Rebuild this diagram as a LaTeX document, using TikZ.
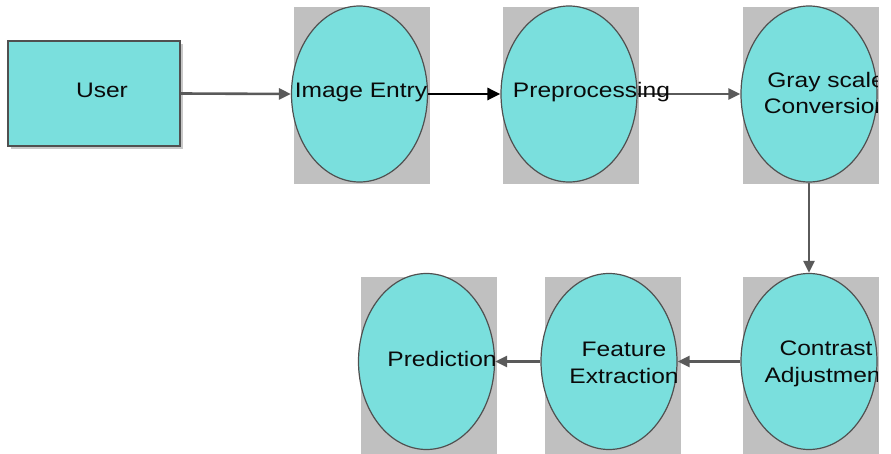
\documentclass[tikz,border=0pt]{standalone}
\usepackage{fontspec}
\setmainfont{Liberation Sans}[FakeStretch=1.17]
\usetikzlibrary{arrows.meta,shapes.geometric}
\definecolor{cyanfill}{HTML}{7ADFDD}
\definecolor{backgray}{HTML}{C0C0C0}
\definecolor{edgegray}{HTML}{505050}
\definecolor{linkgray}{HTML}{5A5A5A}
\definecolor{shadowgray}{HTML}{C8C8C8}
\definecolor{inkcol}{HTML}{0A0A0A}
\tikzset{
  backbox/.style={rectangle, fill=backgray, draw=none, inner sep=0pt,
    minimum width=136pt, minimum height=177pt},
  stage/.style={ellipse, fill=cyanfill, draw=edgegray, line width=1.2pt,
    inner sep=0pt, minimum width=136pt, minimum height=176pt},
  userbox/.style={rectangle, fill=cyanfill, draw=edgegray, line width=1.2pt,
    inner sep=0pt, minimum width=172pt, minimum height=105pt},
  caption/.style={anchor=base, inner sep=0pt, text=inkcol, align=center,
    font=\fontsize{21}{26.5}\selectfont},
  link/.style={draw=linkgray, line width=2.6pt,
    -{Triangle[length=12pt,width=11pt]}},
  darklink/.style={draw=black, line width=2.8pt,
    -{Triangle[length=13pt,width=12pt]}}
}
\begin{document}
\begin{tikzpicture}[x=1pt,y=-1pt]
\useasboundingbox (0,0) rectangle (891,454);
% user box with its drop shadow
\fill[shadowgray] (11,44) rectangle (183,149);
\node[userbox] (u) at (94,93.5) {};
% grey backing panels
\node[backbox] (b1) at (361.5,95.5) {};
\node[backbox] (b2) at (571,95.5) {};
\node[backbox] (b3) at (810.5,95.5) {};
\node[backbox] (b4) at (429,365.5) {};
\node[backbox] (b5) at (612.5,365.5) {};
\node[backbox] (b6) at (810.5,365.5) {};
% process ellipses
\node[stage] (ie) at (359.5,94) {};
\node[stage] (pp) at (569,94) {};
\node[stage] (gs) at (809,94) {};
\node[stage] (pr) at (426.5,361.5) {};
\node[stage] (fe) at (609,361.5) {};
\node[stage] (ca) at (809,361.5) {};
% connectors
\draw[link] (u.east) -- (ie.west);
\draw[darklink] (ie.east) -- (pp.west);
\draw[link] (pp.east) -- (gs.west);
\draw[link] (gs.south) -- (ca.north);
\draw[link] (ca.west) -- (fe.east);
\draw[link] (fe.west) -- (pr.east);
% labels (multi-line labels sit on the baseline of their last line)
\node[caption] (tu) at (102,98) {User};
\node[caption] (tie) at (361,98) {Image Entry};
\node[caption] (tpp) at (591.5,98) {Preprocessing};
\node[caption] (tpr) at (442,366) {Prediction};
\node[caption] (tfe) at (624,383) {Feature\\Extraction};
\begin{scope}
  \clip (0,0) rectangle (877,454);
  \node[caption] (tgs) at (826,114) {Gray scale\\Conversion};
  \node[caption] (tca) at (826,382) {Contrast\\Adjustment};
\end{scope}
\end{tikzpicture}
\end{document}
